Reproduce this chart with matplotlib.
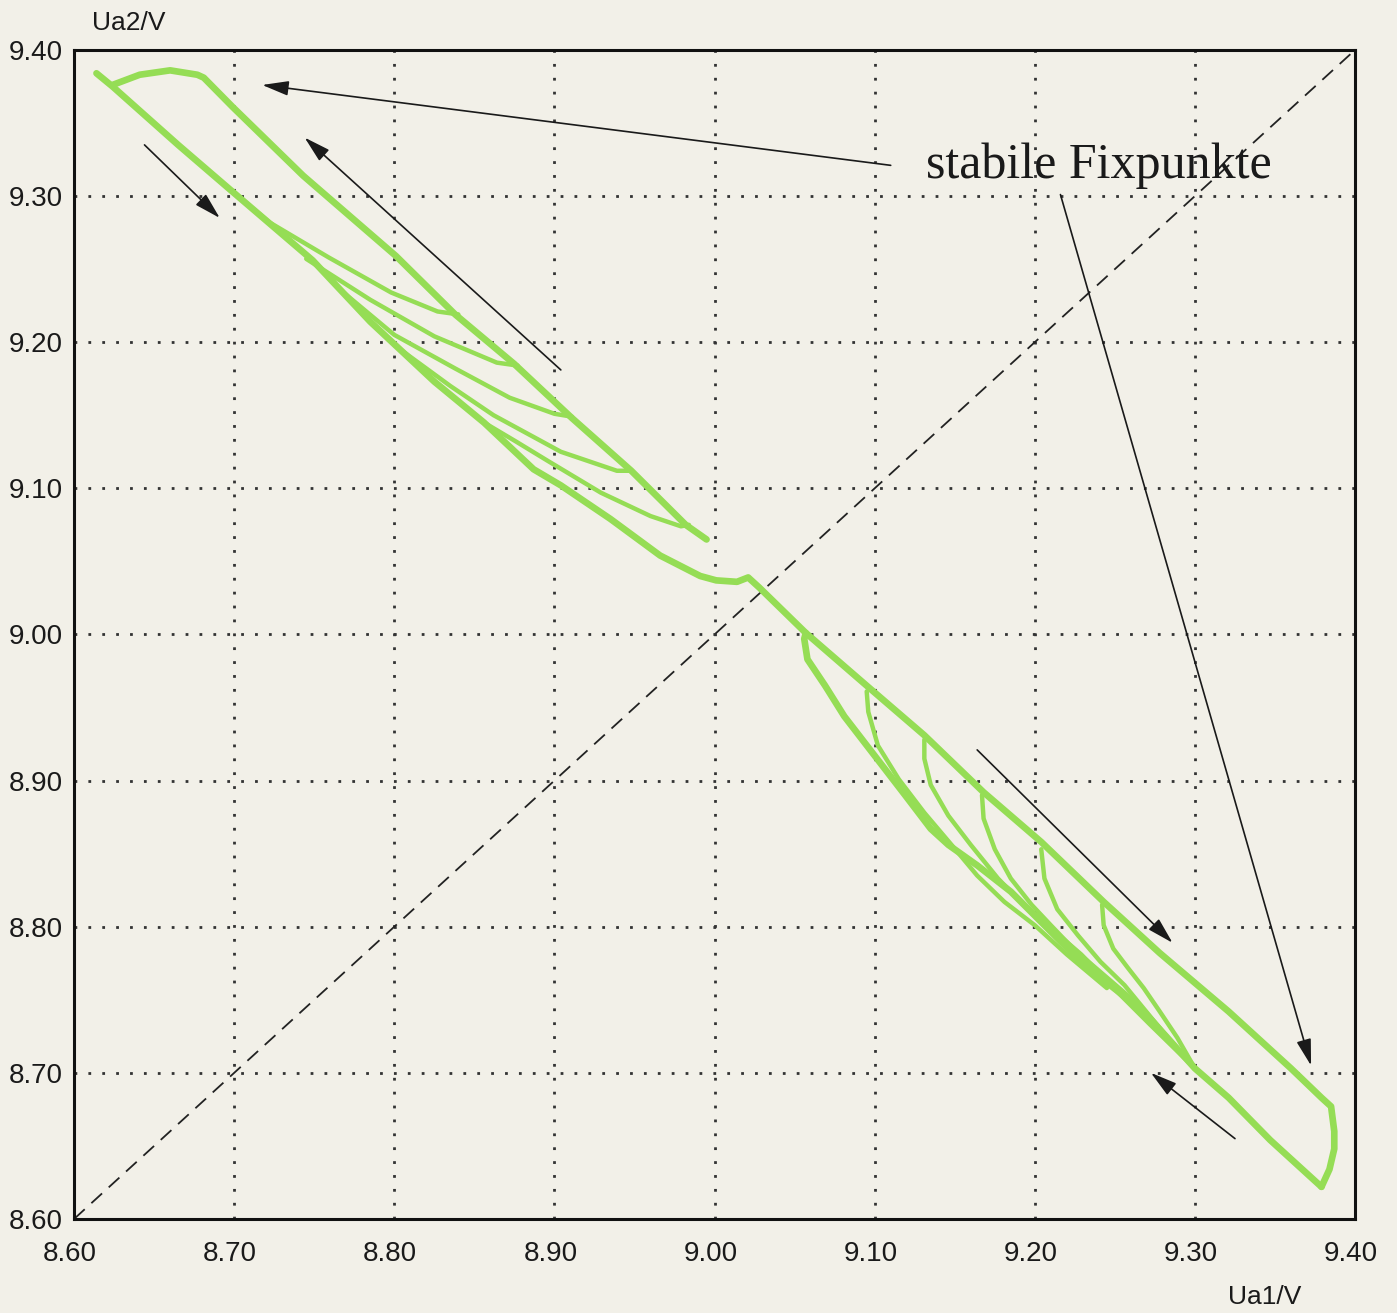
import matplotlib
matplotlib.use('Agg')
import matplotlib.pyplot as plt
import matplotlib.transforms as mtrans

# axis ticks
ticks = [8.60, 8.70, 8.80, 8.90, 9.00, 9.10, 9.20, 9.30, 9.40]
tick_labels = ['8.60', '8.70', '8.80', '8.90', '9.00', '9.10', '9.20', '9.30', '9.40']

# upper-left: tip -> lower envelope -> crossing -> right upper edge -> right tip
main_x = [8.614, 8.624, 8.665, 8.700, 8.749, 8.785, 8.825, 8.856, 8.887, 8.904, 8.935,
          8.966, 8.991, 9.001, 9.014, 9.021, 9.024, 9.028, 9.057, 9.096, 9.131, 9.168,
          9.204, 9.243, 9.278, 9.321, 9.360, 9.379, 9.385, 9.387, 9.387, 9.384, 9.379]
main_y = [9.384, 9.375, 9.335, 9.302, 9.256, 9.214, 9.173, 9.145, 9.113, 9.102, 9.079,
          9.054, 9.040, 9.037, 9.036, 9.039, 9.036, 9.032, 9.001, 8.964, 8.931, 8.892,
          8.858, 8.817, 8.782, 8.742, 8.703, 8.683, 8.677, 8.660, 8.648, 8.634, 8.622]

# lower-right return branch (tip back up to first hook)
ret_x = [9.379, 9.347, 9.321, 9.300, 9.268, 9.247, 9.227, 9.206, 9.185, 9.164, 9.146,
         9.135, 9.119, 9.100, 9.081, 9.069, 9.058, 9.056, 9.057]
ret_y = [8.622, 8.654, 8.683, 8.703, 8.742, 8.760, 8.778, 8.801, 8.824, 8.842, 8.856,
         8.867, 8.890, 8.917, 8.944, 8.965, 8.983, 8.997, 9.001]

# upper-left: top bump and upper edge
top_x = [8.624, 8.641, 8.660, 8.677, 8.681, 8.699, 8.743, 8.801, 8.838, 8.875, 8.911,
         8.948, 8.982, 8.995]
top_y = [9.376, 9.383, 9.386, 9.383, 9.381, 9.361, 9.314, 9.259, 9.219, 9.185, 9.148,
         9.112, 9.075, 9.065]

# upper-left inner loops
loops_left = [
    ([8.700, 8.722, 8.759, 8.798, 8.827, 8.840], [9.302, 9.282, 9.258, 9.234, 9.221, 9.219]),
    ([8.745, 8.785, 8.825, 8.864, 8.877], [9.257, 9.229, 9.204, 9.186, 9.184]),
    ([8.765, 8.800, 8.838, 8.872, 8.900, 8.911], [9.237, 9.205, 9.182, 9.162, 9.151, 9.149]),
    ([8.800, 8.835, 8.862, 8.904, 8.939, 8.948], [9.198, 9.170, 9.150, 9.125, 9.112, 9.112]),
    ([8.856, 8.876, 8.897, 8.929, 8.960, 8.979, 8.984], [9.145, 9.132, 9.118, 9.097, 9.081, 9.074, 9.075]),
]

# lower-right inner loops
loops_right = [
    ([9.095, 9.096, 9.102, 9.115, 9.131, 9.148, 9.164, 9.181, 9.200, 9.220, 9.245],
     [8.961, 8.947, 8.924, 8.901, 8.878, 8.856, 8.835, 8.817, 8.801, 8.781, 8.758]),
    ([9.131, 9.131, 9.135, 9.146, 9.160, 9.177, 9.193, 9.210, 9.229, 9.251, 9.272, 9.300],
     [8.928, 8.915, 8.897, 8.876, 8.856, 8.833, 8.815, 8.799, 8.781, 8.756, 8.733, 8.703]),
    ([9.167, 9.168, 9.175, 9.185, 9.198, 9.210, 9.224, 9.241, 9.258, 9.272, 9.300],
     [8.890, 8.874, 8.853, 8.833, 8.815, 8.801, 8.785, 8.769, 8.753, 8.738, 8.703]),
    ([9.204, 9.206, 9.214, 9.227, 9.241, 9.256, 9.268, 9.280, 9.300],
     [8.853, 8.833, 8.812, 8.794, 8.776, 8.760, 8.744, 8.728, 8.703]),
    ([9.242, 9.243, 9.249, 9.258, 9.268, 9.278, 9.289, 9.300],
     [8.815, 8.801, 8.785, 8.772, 8.758, 8.742, 8.724, 8.703]),
]

# arrows: (start, end)
arrows = [
    ((9.110, 9.321), (8.7175, 9.376)),
    ((9.216, 9.301), (9.3725, 8.705)),
    ((8.644, 9.335), (8.691, 9.285)),
    ((8.904, 9.181), (8.744, 9.340)),
    ((9.164, 8.921), (9.286, 8.789)),
    ((9.325, 8.655), (9.2725, 8.700)),
]

bg = '#f2f0e8'
green = '#95dd55'

fig = plt.figure(figsize=(13.97, 13.13), dpi=100, facecolor=bg)
ax = fig.add_axes([0.053, 0.0716, 0.917, 0.8904], facecolor=bg)

ax.set_xlim(8.60, 9.40)
ax.set_ylim(8.60, 9.40)
ax.set_xticks(ticks)
ax.set_yticks(ticks)
ax.set_xticklabels(tick_labels, fontfamily='Liberation Sans', fontsize=20, color='#1a1a1a')
ax.set_yticklabels(tick_labels, fontfamily='Liberation Sans', fontsize=20, color='#1a1a1a')
ax.tick_params(length=0)
ax.tick_params(axis='x', pad=16)
ax.tick_params(axis='y', pad=8)
# x labels sit a little left of their tick
shift = mtrans.ScaledTranslation(-4 / 100, 0, fig.dpi_scale_trans)
for lbl in ax.get_xticklabels():
    lbl.set_transform(lbl.get_transform() + shift)

ax.grid(True, color='#333333', linestyle=(0, (1, 4)), linewidth=2)
for s in ax.spines.values():
    s.set_linewidth(2.2)
    s.set_color('#111111')

ax.plot([8.60, 9.40], [8.60, 9.40], color='#222222', lw=1.3, linestyle=(0, (8, 5)))

for lx, ly in loops_left + loops_right:
    ax.plot(lx, ly, color=green, lw=3.2, solid_capstyle='round', solid_joinstyle='round')
ax.plot(top_x, top_y, color=green, lw=4.8, solid_capstyle='round', solid_joinstyle='round')
ax.plot(main_x, main_y, color=green, lw=4.8, solid_capstyle='round', solid_joinstyle='round')
ax.plot(ret_x, ret_y, color=green, lw=4.8, solid_capstyle='round', solid_joinstyle='round')

for start, end in arrows:
    ax.annotate('', xy=end, xytext=start,
                arrowprops=dict(arrowstyle='-|>,head_length=0.9,head_width=0.25',
                                lw=1.2, color='#1a1a1a', mutation_scale=18,
                                shrinkA=0, shrinkB=0))

ax.text(9.132, 9.312, 'stabile Fixpunkte', fontfamily='Liberation Serif', fontsize=36,
        color='#1a1a1a', va='baseline', ha='left')

fig.text(92 / 1397, 1 - 30 / 1313, 'Ua2/V', fontfamily='Liberation Sans', fontsize=19,
         va='baseline', ha='left', color='#1a1a1a')
fig.text(1228 / 1397, 1 - 1304 / 1313, 'Ua1/V', fontfamily='Liberation Sans', fontsize=19,
         va='baseline', ha='left', color='#1a1a1a')

fig.savefig('out.png', dpi=100, facecolor=bg)
